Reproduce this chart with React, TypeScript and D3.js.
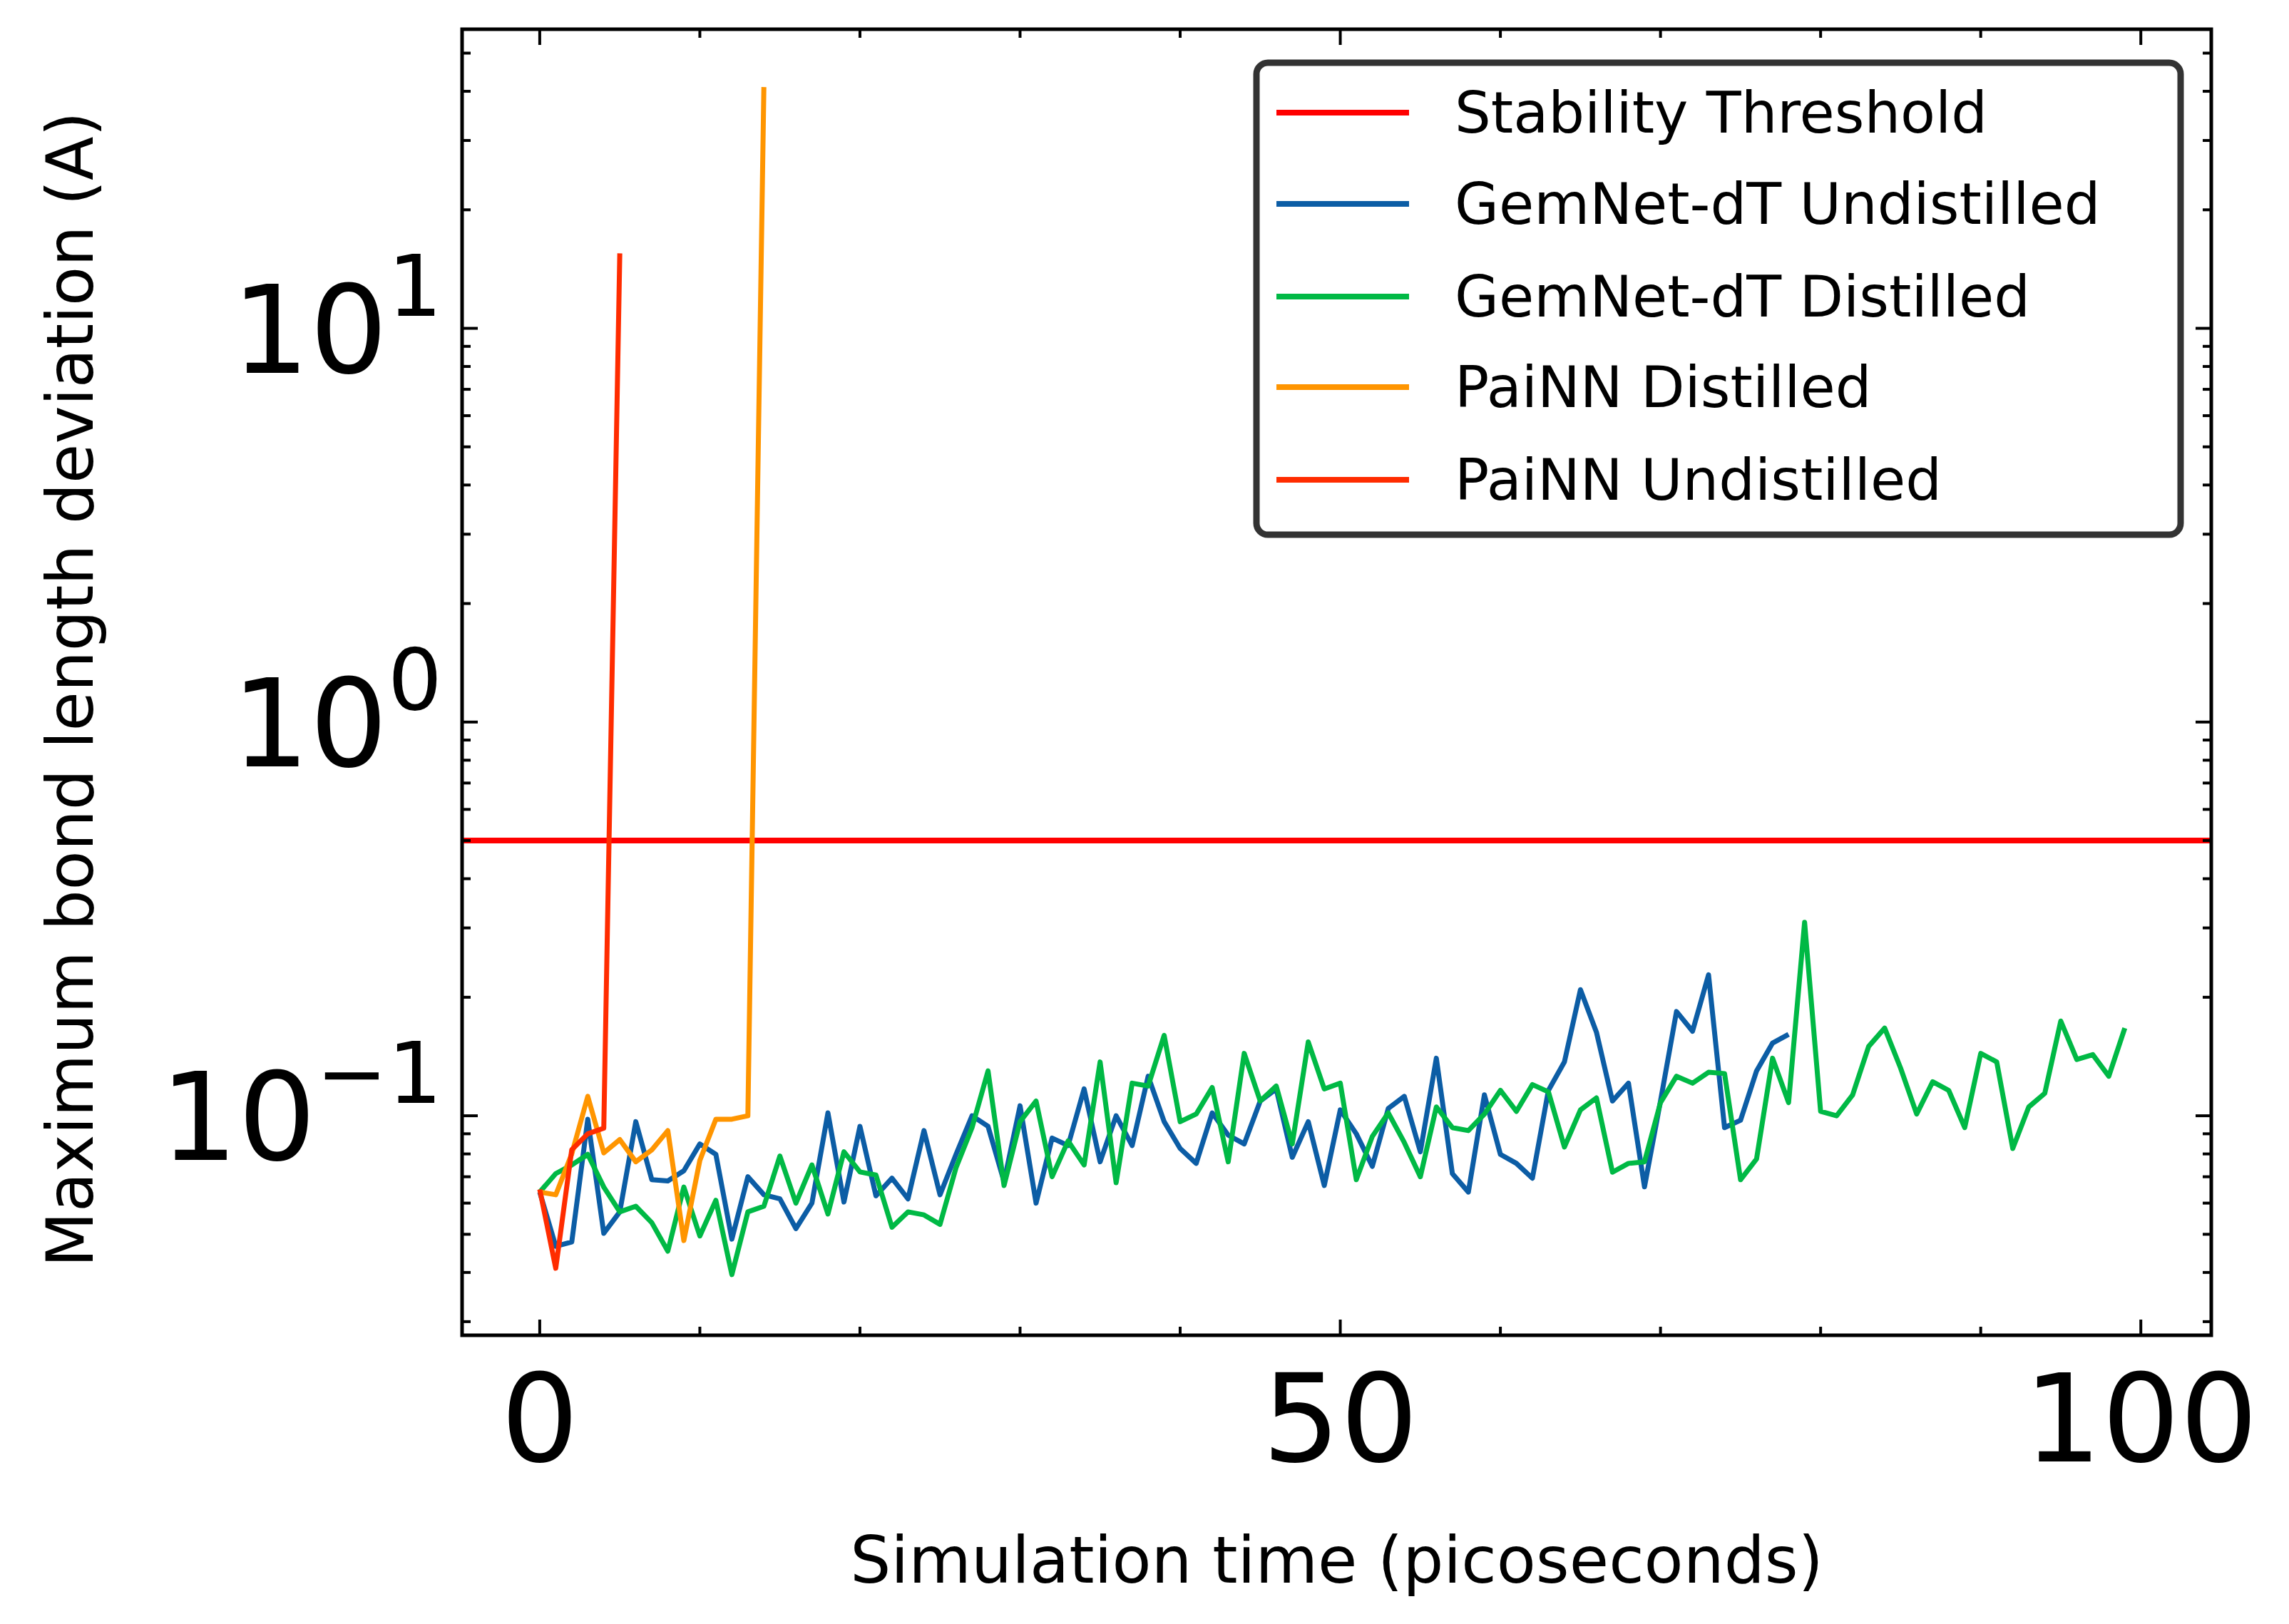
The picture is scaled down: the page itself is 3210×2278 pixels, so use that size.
import React from "react";
import * as d3 from "d3";

const seriesNames = ["Stability Threshold", "GemNet-dT Undistilled", "GemNet-dT Distilled", "PaiNN Distilled", "PaiNN Undistilled"];
const seriesColors = ["#ff0000", "#0C5DA5", "#00B945", "#FF9500", "#FF2C00"];
const threshold = 0.5;
const gemUndist = [0.064,0.0466,0.0478,0.098,0.0503,0.057,0.0966,0.0688,0.0683,0.0725,0.0848,0.0798,0.0486,0.070,0.063,0.0615,0.0517,0.060,0.1017,0.0604,0.094,0.0626,0.0694,0.0615,0.0917,0.063,0.0798,0.1,0.094,0.068,0.106,0.060,0.0878,0.084,0.117,0.0764,0.1,0.084,0.126,0.0966,0.0826,0.0757,0.1017,0.0893,0.0848,0.109,0.117,0.0784,0.0966,0.0665,0.1035,0.090,0.0744,0.1044,0.112,0.081,0.140,0.0713,0.064,0.113,0.0798,0.0757,0.0694,0.116,0.137,0.209,0.163,0.109,0.121,0.066,0.109,0.184,0.164,0.228,0.0933,0.0974,0.13,0.153,0.161];
const gemDist = [0.064,0.0713,0.075,0.0798,0.0659,0.057,0.0589,0.0535,0.0453,0.0659,0.0495,0.061,0.0395,0.057,0.0589,0.079,0.060,0.075,0.0563,0.081,0.072,0.0707,0.0521,0.057,0.056,0.053,0.0738,0.0933,0.13,0.0665,0.0966,0.109,0.070,0.0863,0.075,0.137,0.0676,0.121,0.119,0.160,0.0966,0.101,0.118,0.0764,0.144,0.109,0.119,0.0848,0.154,0.117,0.121,0.0688,0.0886,0.1017,0.0855,0.070,0.1053,0.0933,0.0917,0.101,0.116,0.1026,0.120,0.115,0.0833,0.1035,0.111,0.0719,0.0757,0.0764,0.108,0.126,0.121,0.129,0.128,0.0688,0.0777,0.140,0.108,0.31,0.1026,0.1,0.113,0.150,0.167,0.132,0.101,0.122,0.116,0.0933,0.144,0.137,0.0826,0.1053,0.114,0.174,0.139,0.143,0.126,0.167];
const painnDist = [0.064,0.063,0.08,0.112,0.0805,0.087,0.0764,0.0819,0.0917,0.0482,0.077,0.098,0.098,0.1,41];
const painnUndist = [0.065,0.041,0.082,0.09,0.093,15.5];
const xTicks = [0, 50, 100];
const yTicks = [0.1, 1, 10];
const yTickExp = ["\u22121", "0", "1"];

const W = 3210, H = 2278;
const L = 648, R = 3101, T = 41, B = 1873;

export default function App() {
  const x = d3.scaleLinear().domain([-4.85, 104.4]).range([L, R]);
  const y = d3.scaleLog().domain([0.0277, 57.5]).range([B, T]);
  const line = d3.line<number>().x((_, i) => x(i)).y((d) => y(d));
  const minorX = d3.range(0, 101, 10);
  const minorY: number[] = [];
  [0.01, 0.1, 1, 10].forEach((dec) => { for (let k = 2; k <= 9; k++) { const v = dec * k; if (v > 0.0277 && v < 57.5) minorY.push(v); } });
  const series = [gemUndist, gemDist, painnDist, painnUndist];
  const sColors = [seriesColors[1], seriesColors[2], seriesColors[3], seriesColors[4]];
  const legY = [158, 286, 416, 543, 673];
  return (
    <svg width={W} height={H} style={{ display: "block", position: "absolute", left: 0, top: 0, background: "#fff" }} fontFamily="DejaVu Sans">
      <rect width={W} height={H} fill="#fff" />
      <defs><clipPath id="clip"><rect x={L} y={T} width={R - L} height={B - T} /></clipPath></defs>
      <g clipPath="url(#clip)">
        <line x1={L} x2={R} y1={y(threshold)} y2={y(threshold)} stroke={seriesColors[0]} strokeWidth={8} />
        {series.map((s, i) => (
          <path key={i} d={line(s) || ""} fill="none" stroke={sColors[i]} strokeWidth={7} strokeLinejoin="round" />
        ))}
      </g>
      {/* ticks */}
      {minorX.map((v) => (
        <g key={"mx" + v} stroke="#000" strokeWidth={4}>
          <line x1={x(v)} x2={x(v)} y1={B} y2={B - (v % 50 === 0 ? 22 : 12)} />
          <line x1={x(v)} x2={x(v)} y1={T} y2={T + (v % 50 === 0 ? 22 : 12)} />
        </g>
      ))}
      {minorY.map((v, i) => (
        <g key={"my" + i} stroke="#000" strokeWidth={4}>
          <line x1={L} x2={L + 12} y1={y(v)} y2={y(v)} />
          <line x1={R} x2={R - 12} y1={y(v)} y2={y(v)} />
        </g>
      ))}
      {yTicks.map((v) => (
        <g key={"y" + v} stroke="#000" strokeWidth={4}>
          <line x1={L} x2={L + 22} y1={y(v)} y2={y(v)} />
          <line x1={R} x2={R - 22} y1={y(v)} y2={y(v)} />
        </g>
      ))}
      <rect x={L} y={T} width={R - L} height={B - T} fill="none" stroke="#000" strokeWidth={5} />
      {xTicks.map((v) => (
        <text key={"xt" + v} x={x(v)} y={2050} fontSize={172} textAnchor="middle">{v}</text>
      ))}
      {yTicks.map((v, i) => (
        <text key={"yt" + v} x={620} y={y(v) + 62} fontSize={172} textAnchor="end">
          10<tspan dy={-80} fontSize={120}>{yTickExp[i]}</tspan>
        </text>
      ))}
      <text x={(L + R) / 2} y={2220} fontSize={90} textAnchor="middle">Simulation time (picoseconds)</text>
      <text transform={`translate(130,${(T + B) / 2 + 10}) rotate(-90)`} fontSize={90} textAnchor="middle">Maximum bond length deviation (A)</text>
      {/* legend */}
      <rect x={1762} y={88} width={1296} height={662} rx={16} fill="#fff" stroke="#333" strokeWidth={9} />
      {seriesNames.map((n, i) => (
        <g key={n}>
          <line x1={1790} x2={1976} y1={legY[i]} y2={legY[i]} stroke={seriesColors[i]} strokeWidth={8} />
          <text x={2040} y={legY[i] + 28} fontSize={80}>{n}</text>
        </g>
      ))}
    </svg>
  );
}
